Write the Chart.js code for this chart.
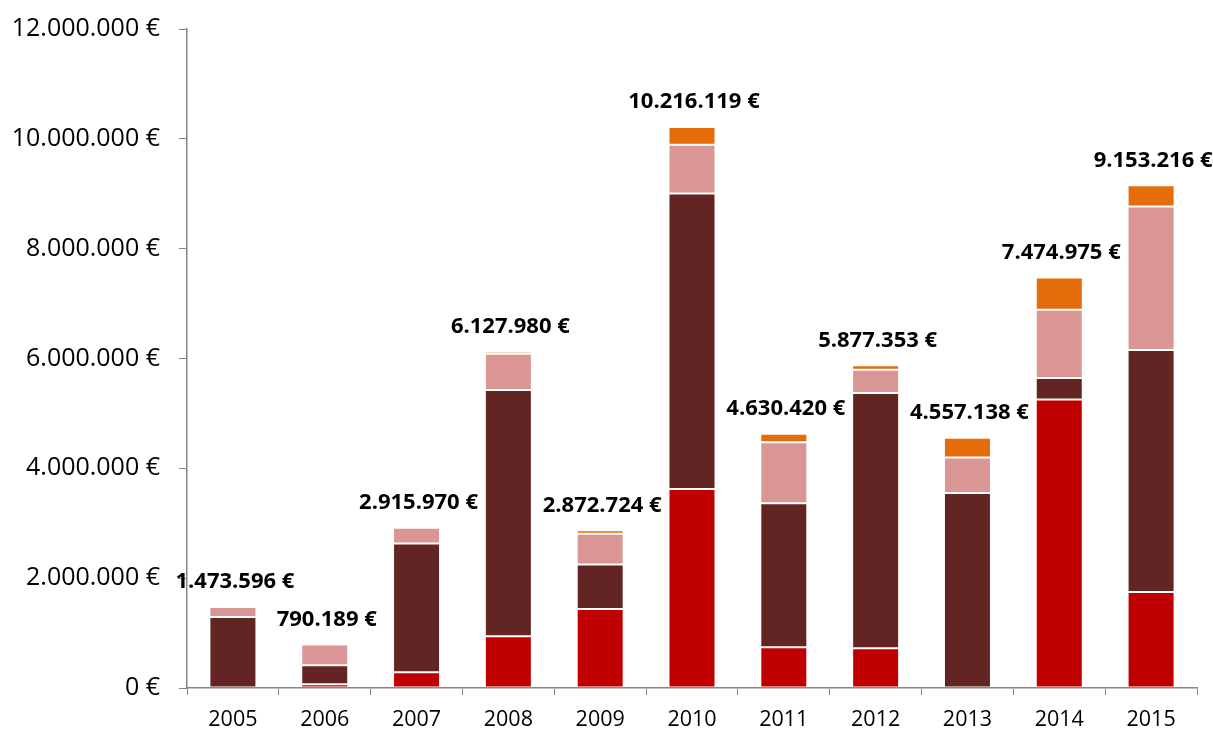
<!DOCTYPE html>
<html>
<head>
<meta charset="utf-8">
<script src="https://cdn.jsdelivr.net/npm/chart.js@4.4.1/dist/chart.umd.min.js"></script>
<style>
  html, body { margin: 0; padding: 0; background: #ffffff; }
  #wrap { width: 1213px; height: 731px; position: relative; }
</style>
</head>
<body>
<div id="wrap"><canvas id="c" width="1213" height="731"></canvas></div>
<script>
// Yearly amounts in euro, stacked by funding component
const years = ['2005', '2006', '2007', '2008', '2009', '2010', '2011', '2012', '2013', '2014', '2015'];
const partRed    = [0, 68000, 287000, 944000, 1440000, 3622000, 740000, 725000, 0, 5255000, 1749000];
const partDark   = [1295000, 345000, 2342000, 4483000, 810000, 5384000, 2625000, 4648000, 3552000, 392000, 4404000];
const partPink   = [178596, 377189, 286970, 658000, 560000, 888000, 1111000, 420000, 646000, 1240000, 2615000];
const partOrange = [0, 0, 0, 42980, 62724, 322119, 154420, 84353, 359138, 587975, 385216];
const yTicks = [0, 2000000, 4000000, 6000000, 8000000, 10000000, 12000000];

function euro(v) {
  const s = Math.round(v).toString().replace(/\B(?=(\d{3})+(?!\d))/g, '.');
  return s + ' €';
}

const AXIS = '#868686';
const FONT = "'Open Sans', 'DejaVu Sans', sans-serif";

// Totals written above each stacked column
const totalLabels = {
  id: 'totalLabels',
  afterDatasetsDraw(chart) {
    const ctx = chart.ctx;
    const y = chart.scales.y;
    const meta = chart.getDatasetMeta(0);
    ctx.save();
    ctx.font = "bold 22px " + FONT;
    ctx.fillStyle = '#000000';
    ctx.textAlign = 'center';
    ctx.textBaseline = 'middle';
    years.forEach((yr, i) => {
      const total = chart.data.datasets.reduce((s, d) => s + (d.data[i] || 0), 0);
      const x = meta.data[i].x;
      const top = y.getPixelForValue(total);
      ctx.fillText(euro(total), x + 2, top - 25);
    });
    ctx.restore();
  }
};

// Empty segments are left out so they leave no stray edge
const seg = (label, data, color) => ({
  label,
  data: data.map(v => (v === 0 ? null : v)),
  backgroundColor: color,
  borderColor: 'rgba(255,255,255,0.16)',
  borderWidth: 1,
  borderSkipped: false,
  categoryPercentage: 0.512,
  barPercentage: 1.0
});

new Chart(document.getElementById('c'), {
  type: 'bar',
  data: {
    labels: years,
    datasets: [
      seg('A', partRed, '#C00000'),
      seg('B', partDark, '#632523'),
      seg('C', partPink, '#D99694'),
      seg('D', partOrange, '#E46C0A')
    ]
  },
  plugins: [totalLabels],
  options: {
    responsive: false,
    animation: false,
    devicePixelRatio: 1,
    layout: { padding: { top: 29, right: 16, bottom: 0, left: 0 } },
    plugins: { legend: { display: false }, tooltip: { enabled: false } },
    scales: {
      x: {
        stacked: true,
        grid: { display: true, drawOnChartArea: false, color: AXIS, tickLength: 7, lineWidth: 1 },
        border: { display: true, color: AXIS, width: 1.5 },
        ticks: { color: '#000', font: { family: FONT, size: 21.5 }, padding: 12, maxRotation: 0 },
        afterFit(scale) { scale.height = 43; }
      },
      y: {
        stacked: true,
        min: 0,
        max: 12000000,
        afterBuildTicks(scale) { scale.ticks = yTicks.map(v => ({ value: v })); },
        grid: { display: true, drawOnChartArea: false, color: AXIS, tickLength: 8, lineWidth: 1 },
        border: { display: true, color: AXIS, width: 1.5 },
        ticks: {
          color: '#000',
          font: { family: FONT, size: 25 },
          padding: 19,
          callback: (v) => euro(v)
        },
        afterFit(scale) {
          scale.width = 187;
          scale.paddingTop = 0;
          scale.paddingBottom = 0;
        }
      }
    }
  }
});
</script>
</body>
</html>
